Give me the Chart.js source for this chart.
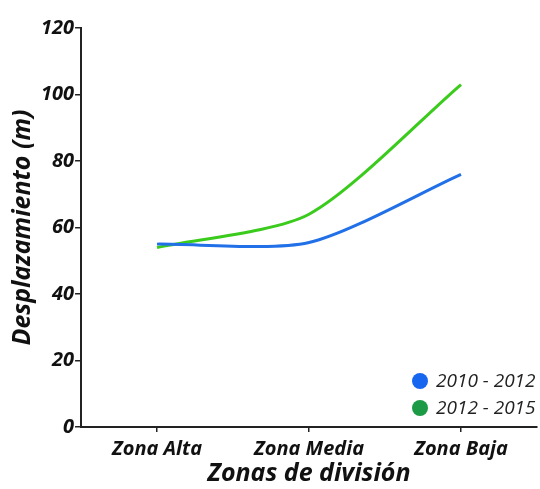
<!DOCTYPE html>
<html>
<head>
<meta charset="utf-8">
<script src="https://cdn.jsdelivr.net/npm/chart.js@4.4.0/dist/chart.umd.min.js"></script>
<style>
  html, body { margin: 0; padding: 0; background: #fff; }
  #wrap { width: 540px; height: 489px; }
</style>
</head>
<body>
<div id="wrap"><canvas id="chart" width="540" height="489"></canvas></div>
<script>
const zonas = ['Zona Alta', 'Zona Media', 'Zona Baja']
const periodos = ['2010 - 2012', '2012 - 2015']
const desp2010 = [55, 55.5, 76]
const desp2012 = [54, 64, 103]
const yMax = 120
const yPaso = 20

const lineColors = ['#2170e8', '#3acb1c']
const dotColors = ['#1666f0', '#1c9a45']

const fuente = '"Open Sans", sans-serif'

// leyenda dentro del area del grafico, abajo a la derecha
const leyendaAbajo = {
    id: 'leyendaAbajo',
    afterDraw(chart) {
        const ctx = chart.ctx
        const area = chart.chartArea
        ctx.save()
        ctx.font = 'italic 19px ' + fuente
        ctx.textBaseline = 'middle'
        chart.data.datasets.forEach(function (ds, i) {
            const y = area.bottom - 46 + i * 27
            const x = area.right - 117
            ctx.beginPath()
            ctx.fillStyle = dotColors[i]
            ctx.arc(x, y, 8, 0, Math.PI * 2)
            ctx.fill()
            ctx.fillStyle = '#222'
            ctx.fillText(ds.label, x + 16, y + 1)
        })
        ctx.restore()
    }
}

const ctx = document.getElementById('chart').getContext('2d')
const chart = new Chart(ctx, {
    type: 'line',
    data: {
        labels: zonas,
        datasets: [{
            label: periodos[0],
            data: desp2010,
            borderColor: lineColors[0],
            borderWidth: 3,
            pointRadius: 0,
            tension: 0.25,
            fill: false
        }, {
            label: periodos[1],
            data: desp2012,
            borderColor: lineColors[1],
            borderWidth: 3,
            pointRadius: 0,
            tension: 0.25,
            fill: false
        }]
    },
    options: {
        responsive: false,
        animation: false,
        layout: { padding: { top: 28, right: 3, left: 8, bottom: 0 } },
        plugins: {
            legend: { display: false },
            tooltip: { enabled: false }
        },
        scales: {
            x: {
                offset: true,
                grid: { display: true, drawOnChartArea: false, offset: false, color: '#222', tickLength: 5, lineWidth: 1.5 },
                border: { color: '#222', width: 2 },
                ticks: { color: '#111', font: { family: fuente, size: 20, style: 'italic', weight: 'bold' }, padding: 5, maxRotation: 0 },
                title: {
                    display: true,
                    text: 'Zonas de división',
                    color: '#111',
                    font: { family: fuente, size: 25, style: 'italic', weight: 'bold' },
                    padding: { top: -7, bottom: 0 }
                }
            },
            y: {
                min: 0,
                max: yMax,
                grid: { display: true, drawOnChartArea: false, color: '#222', tickLength: 6, lineWidth: 1.5 },
                border: { color: '#222', width: 2 },
                ticks: { stepSize: yPaso, color: '#111', font: { family: fuente, size: 20, style: 'italic', weight: 'bold' }, padding: 1 },
                title: {
                    display: true,
                    text: 'Desplazamiento (m)',
                    color: '#111',
                    font: { family: fuente, size: 25, style: 'italic', weight: 'bold' },
                    padding: { top: 0, bottom: 2 }
                }
            }
        }
    },
    plugins: [leyendaAbajo]
})
</script>
</body>
</html>
